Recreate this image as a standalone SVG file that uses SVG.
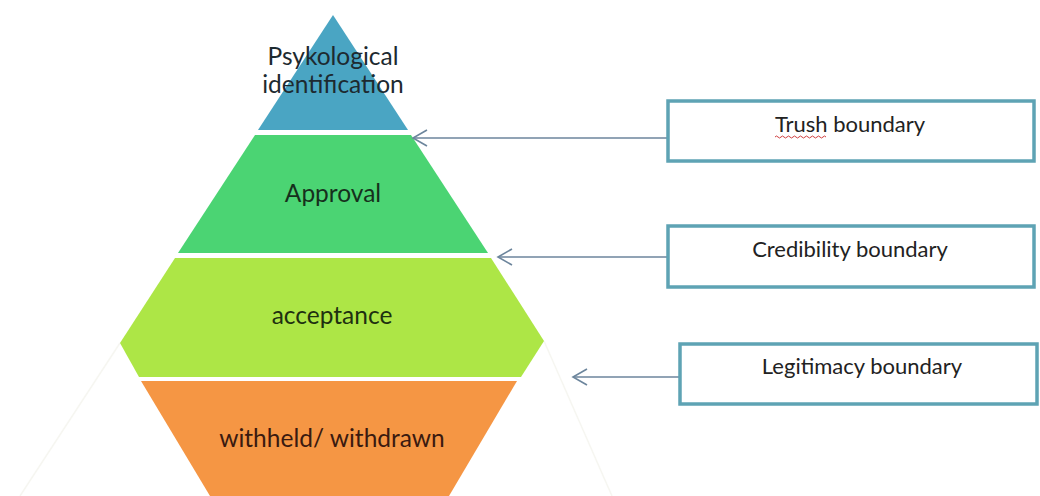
<svg xmlns="http://www.w3.org/2000/svg" width="1040" height="496" viewBox="0 0 1040 496">
  <style>
    .lbl { font-family: Lato, "Open Sans", "Liberation Sans", sans-serif; font-size: 24.5px; text-anchor: middle; }
    .box rect { fill: #ffffff; stroke: #5ea3b4; stroke-width: 3.5; }
    .box text { font-family: Lato, "Open Sans", "Liberation Sans", sans-serif; font-size: 22px; fill: #222222; text-anchor: middle; }
    .conn line { stroke: #6c859c; stroke-width: 1.6; fill: none; }
    .faint { stroke: #f6f6f1; stroke-width: 1.5; fill: none; }
  </style>
  <defs>
    <marker id="open-arrow" markerUnits="userSpaceOnUse" markerWidth="20" markerHeight="20" viewBox="-16 -10 20 20" refX="0" refY="0" orient="auto">
      <path d="M-14,-8 L0,0 L-14,8" fill="none" stroke="#6c859c" stroke-width="1.6"/>
    </marker>
  </defs>

  <rect width="1040" height="496" fill="#ffffff"/>

  <!-- faint outlines of the white corner wedges -->
  <path class="faint" d="M120,343 L20,496"/>
  <path class="faint" d="M544,341 L612,496"/>

  <!-- pyramid layers -->
  <g id="layer-identification">
    <polygon points="333,15 408,130 258,130" fill="#4aa5c3"/>
    <text class="lbl" x="333" y="65" fill="#1d2a30">Psykological</text>
    <text class="lbl" x="333" y="93" fill="#1d2a30">identification</text>
  </g>
  <g id="layer-approval">
    <polygon points="255,135 411,135 488,253 178,253" fill="#4bd473"/>
    <text class="lbl" x="333" y="202" fill="#16301c">Approval</text>
  </g>
  <g id="layer-acceptance">
    <polygon points="175,258 491,258 544,341 521,377 139,377 120,343" fill="#ade646"/>
    <text class="lbl" x="332" y="324" fill="#1e3010">acceptance</text>
  </g>
  <g id="layer-withheld">
    <polygon points="141,381 517,381 449,496 210,496" fill="#f59644"/>
    <text class="lbl" x="332" y="447" fill="#3a1a10">withheld/ withdrawn</text>
  </g>

  <!-- boundary connectors -->
  <g id="connectors" class="conn">
    <line x1="667" y1="138" x2="413" y2="138" marker-end="url(#open-arrow)"/>
    <line x1="667" y1="257" x2="498" y2="257" marker-end="url(#open-arrow)"/>
    <line x1="679" y1="377" x2="573" y2="377" marker-end="url(#open-arrow)"/>
  </g>

  <!-- boundary boxes -->
  <g id="box-trush" class="box">
    <rect x="668" y="101" width="366" height="60"/>
    <text x="850" y="132">Trush boundary</text>
    <path d="M775,137 q1.5,-2 3,0 t3,0 t3,0 t3,0 t3,0 t3,0 t3,0 t3,0 t3,0 t3,0 t3,0 t3,0 t3,0 t3,0 t3,0 t3,0 t3,0" fill="none" stroke="#d04040" stroke-width="1"/>
  </g>
  <g id="box-credibility" class="box">
    <rect x="668" y="226" width="366" height="61"/>
    <text x="850" y="257">Credibility boundary</text>
  </g>
  <g id="box-legitimacy" class="box">
    <rect x="680" y="344" width="357" height="60"/>
    <text x="862" y="374">Legitimacy boundary</text>
  </g>
</svg>
